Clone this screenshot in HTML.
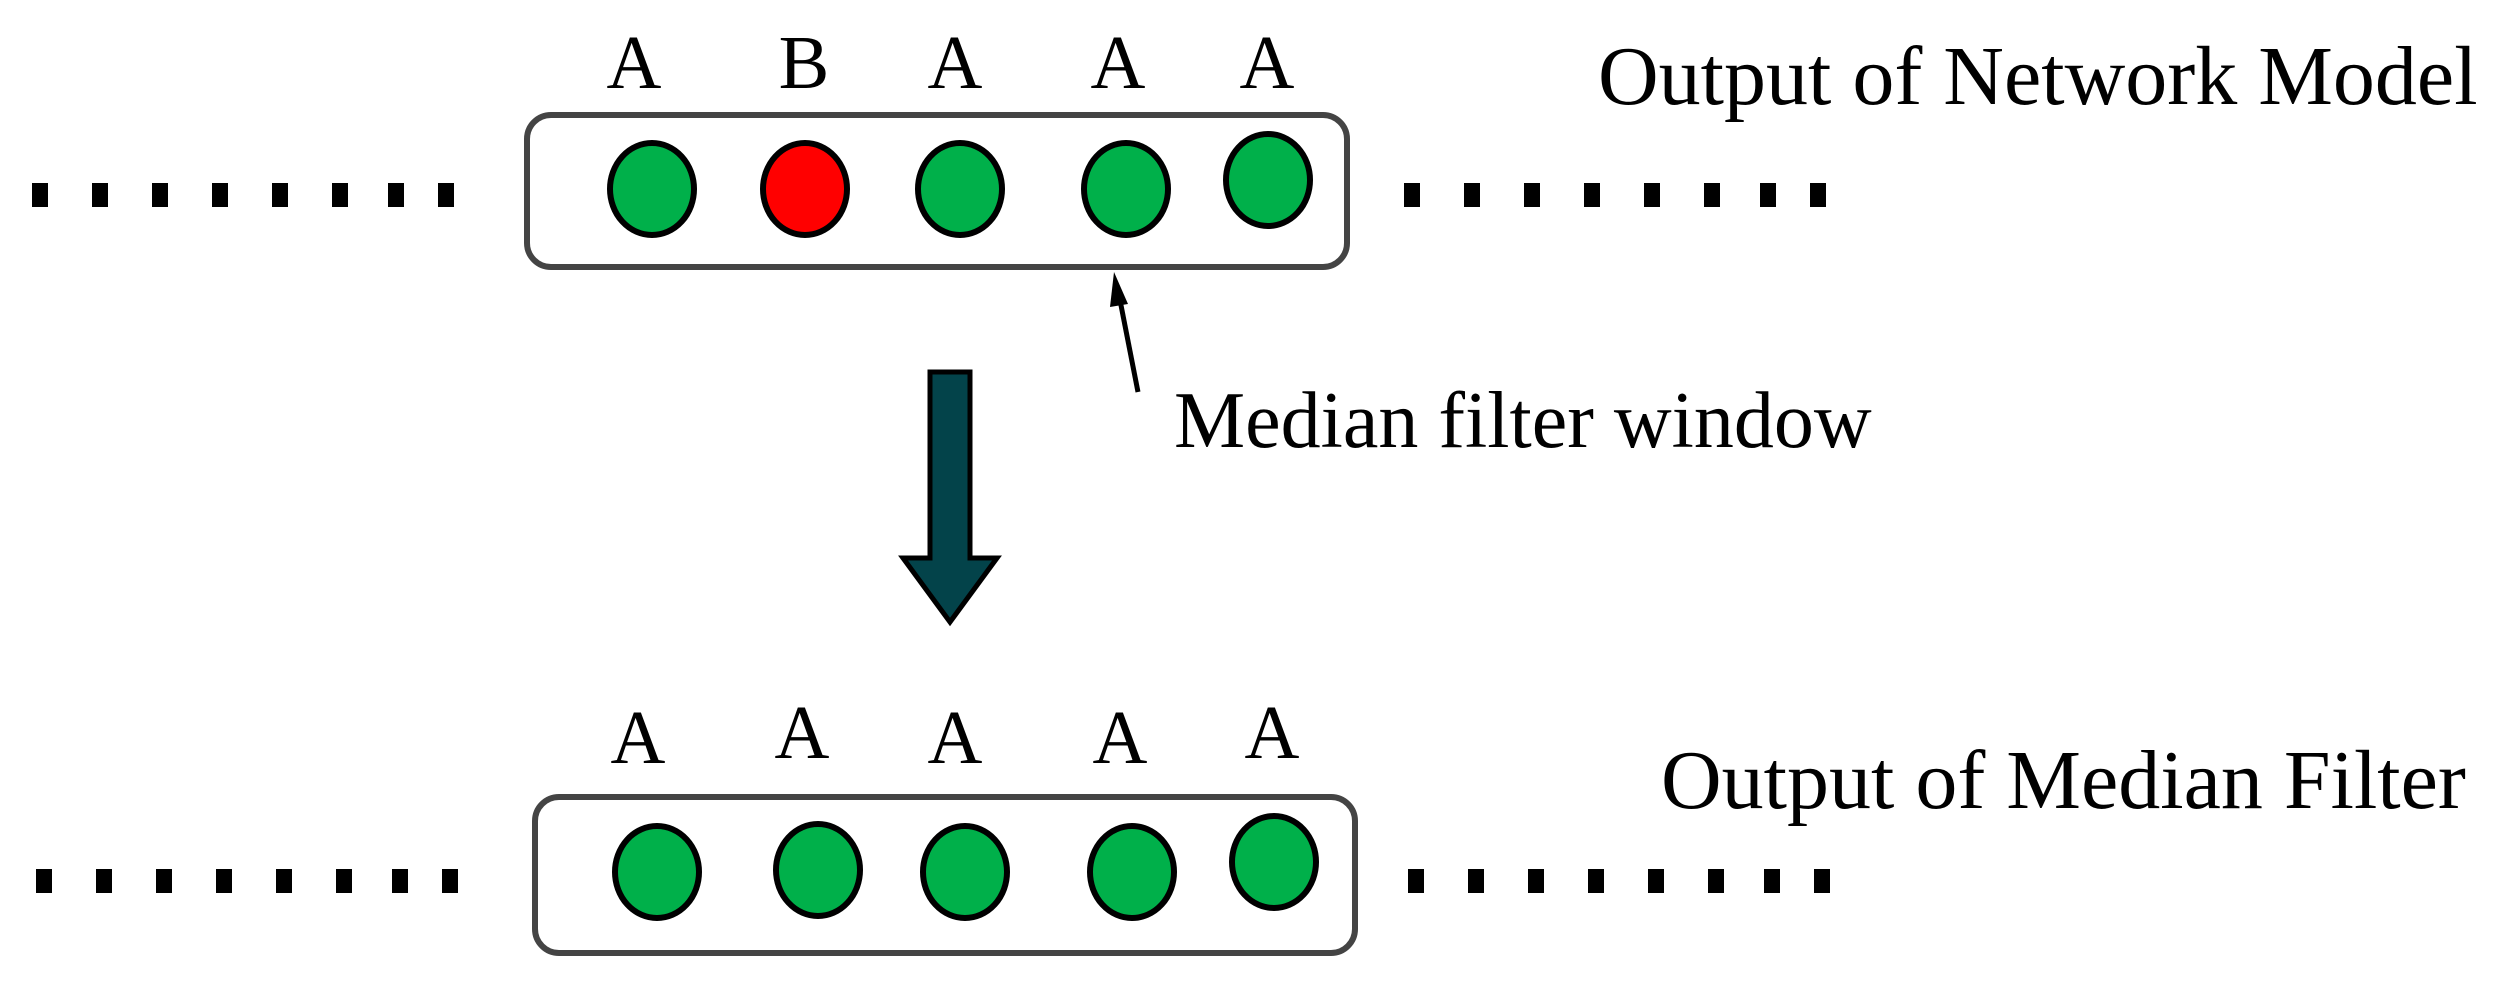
<!DOCTYPE html>
<html><head><meta charset="utf-8"><style>html,body{margin:0;padding:0;background:#fff}</style></head>
<body>
<svg width="2505" height="991" viewBox="0 0 2505 991" xmlns="http://www.w3.org/2000/svg" font-family="Liberation Serif, serif">
<rect width="2505" height="991" fill="#fff"/>
<g font-size="76" fill="#000" text-anchor="middle">
<text x="634" y="88">A</text><text x="804" y="88">B</text><text x="955" y="88">A</text><text x="1118" y="88">A</text><text x="1267" y="88">A</text>
<text x="638" y="763">A</text><text x="802" y="758">A</text><text x="955" y="763">A</text><text x="1120" y="763">A</text><text x="1272" y="758">A</text>
</g>
<text x="1598" y="104" font-size="84">Output of Network Model</text>
<text x="1174" y="447" font-size="80">Median filter window</text>
<text x="1661" y="808" font-size="84">Output of Median Filter</text>
<rect x="527" y="115" width="820" height="152" rx="24" fill="#fff" stroke="#444" stroke-width="6"/>
<rect x="535" y="797" width="820" height="156" rx="24" fill="#fff" stroke="#444" stroke-width="6"/>
<g stroke="#000" stroke-width="6">
<ellipse cx="652" cy="189" rx="42" ry="46" fill="#00b04a"/>
<ellipse cx="805" cy="189" rx="42" ry="46" fill="#ff0000"/>
<ellipse cx="960" cy="189" rx="42" ry="46" fill="#00b04a"/>
<ellipse cx="1126" cy="189" rx="42" ry="46" fill="#00b04a"/>
<ellipse cx="1268" cy="180" rx="42" ry="46" fill="#00b04a"/>
<ellipse cx="657" cy="872" rx="42" ry="46" fill="#00b04a"/>
<ellipse cx="818" cy="870" rx="42" ry="46" fill="#00b04a"/>
<ellipse cx="965" cy="872" rx="42" ry="46" fill="#00b04a"/>
<ellipse cx="1132" cy="872" rx="42" ry="46" fill="#00b04a"/>
<ellipse cx="1274" cy="862" rx="42" ry="46" fill="#00b04a"/>
</g>
<g fill="#000">
<g id="d1"><rect x="32" y="183" width="16" height="24"/><rect x="92" y="183" width="16" height="24"/><rect x="152" y="183" width="16" height="24"/><rect x="212" y="183" width="16" height="24"/><rect x="272" y="183" width="16" height="24"/><rect x="332" y="183" width="16" height="24"/><rect x="388" y="183" width="16" height="24"/><rect x="438" y="183" width="16" height="24"/></g>
<use href="#d1" x="1372"/>
<use href="#d1" x="4" y="686"/>
<use href="#d1" x="1376" y="686"/>
</g>
<path d="M930 372 H970 V558 H997 L950 622 L903 558 H930 Z" fill="#03434a" stroke="#000" stroke-width="5"/>
<line x1="1138" y1="392" x2="1119" y2="295" stroke="#000" stroke-width="5"/>
<path d="M1114 272 L1128 304 L1110 307 Z" fill="#000"/>
</svg>
</body></html>
